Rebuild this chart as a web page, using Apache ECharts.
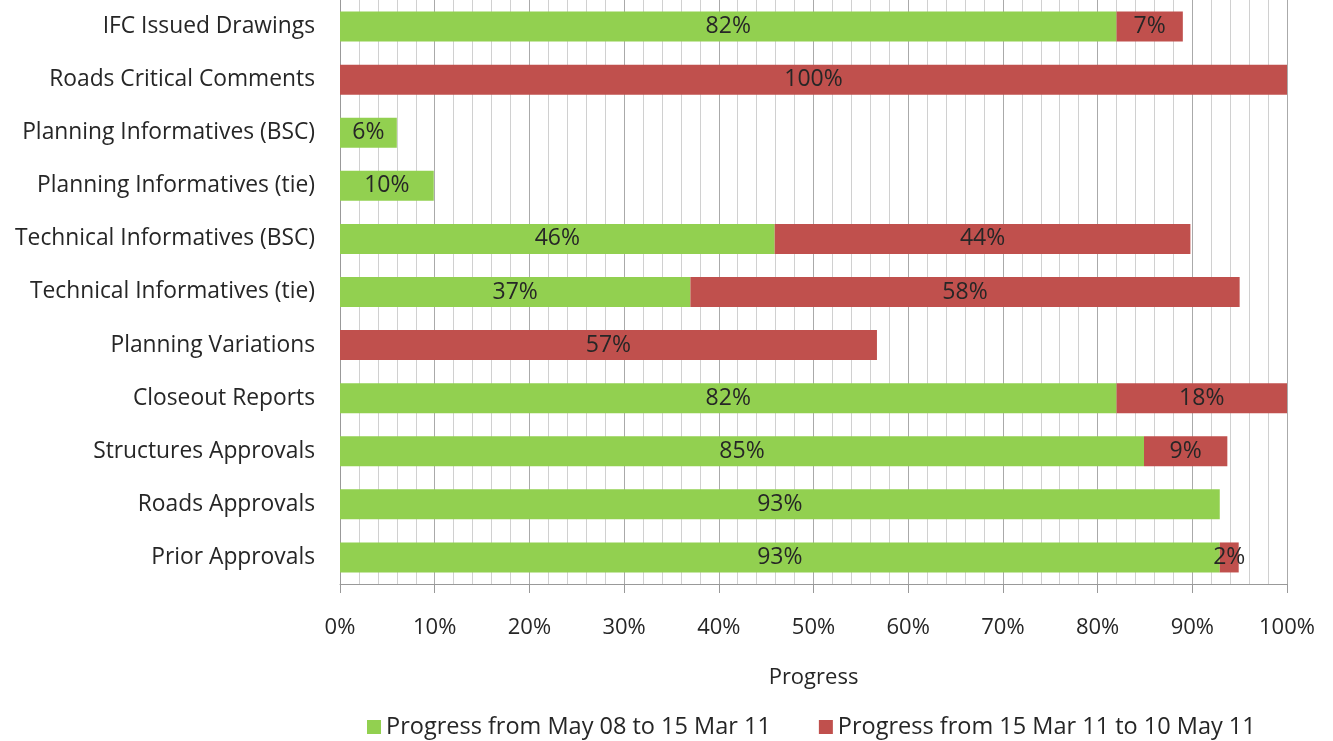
<!DOCTYPE html>
<html>
<head>
<meta charset="utf-8">
<script src="https://cdn.jsdelivr.net/npm/echarts@6/dist/echarts.min.js"></script>
<style>html,body{margin:0;padding:0;background:#fff;}#c{width:1333px;height:741px;}</style>
</head>
<body>
<div id="c"></div>
<script>
var categories = ['Prior Approvals','Roads Approvals','Structures Approvals','Closeout Reports','Planning Variations','Technical Informatives (tie)','Technical Informatives (BSC)','Planning Informatives (tie)','Planning Informatives (BSC)','Roads Critical Comments','IFC Issued Drawings'];
var seriesNames = ['Progress from May 08 to 15 Mar 11','Progress from 15 Mar 11 to 10 May 11'];
var earlyProgress = [92.9, 92.9, 84.9, 82, 0, 37, 45.9, 9.9, 6, 0, 82];
var lateProgress = [2, 0, 8.8, 18, 56.7, 58, 43.9, 0, 0, 100, 7];
var xTicks = [0,10,20,30,40,50,60,70,80,90,100];

var FONT = '"Open Sans", "Noto Sans", sans-serif';
var chart = echarts.init(document.getElementById('c'));
function lbl(){
  return {show:true, position:'inside', color:'#262626', fontSize:23, fontFamily:FONT,
    formatter:function(p){ return p.value>0 ? Math.round(p.value)+'%' : ''; }};
}
chart.setOption({
  animation:false,
  grid:{left:340, right:46, top:-6, bottom:157, containLabel:false},
  legend:{bottom:-3, left:362, itemWidth:14, itemHeight:14, itemGap:48, icon:'rect',
    textStyle:{fontSize:23.5, color:'#262626', fontFamily:FONT},
    data:seriesNames},
  xAxis:{type:'value', min:xTicks[0], max:xTicks[xTicks.length-1], interval:10,
    name:'Progress', nameLocation:'middle', nameGap:83,
    nameTextStyle:{fontSize:22, color:'#262626', fontFamily:FONT},
    axisLine:{show:true, lineStyle:{color:'#999'}},
    axisTick:{show:true, length:9, lineStyle:{color:'#999'}},
    axisLabel:{margin:33, fontSize:22, color:'#262626', fontFamily:FONT, formatter:'{value}%'},
    splitLine:{show:true, lineStyle:{color:'#aaa', width:1}},
    minorTick:{show:false, splitNumber:5},
    minorSplitLine:{show:true, lineStyle:{color:'#d0d0d0', width:1}}
  },
  yAxis:{type:'category', data:categories,
    axisLine:{show:true, lineStyle:{color:'#999'}},
    axisTick:{show:false},
    axisLabel:{margin:25, fontSize:22.8, color:'#262626', fontFamily:FONT}
  },
  series:[
    {name:seriesNames[0], type:'bar', stack:'p', barWidth:30, data:earlyProgress,
     itemStyle:{color:'#92D050'}, label:lbl()},
    {name:seriesNames[1], type:'bar', stack:'p', barWidth:30, data:lateProgress,
     itemStyle:{color:'#C0504D'}, label:lbl()}
  ]
});
</script>
</body>
</html>
